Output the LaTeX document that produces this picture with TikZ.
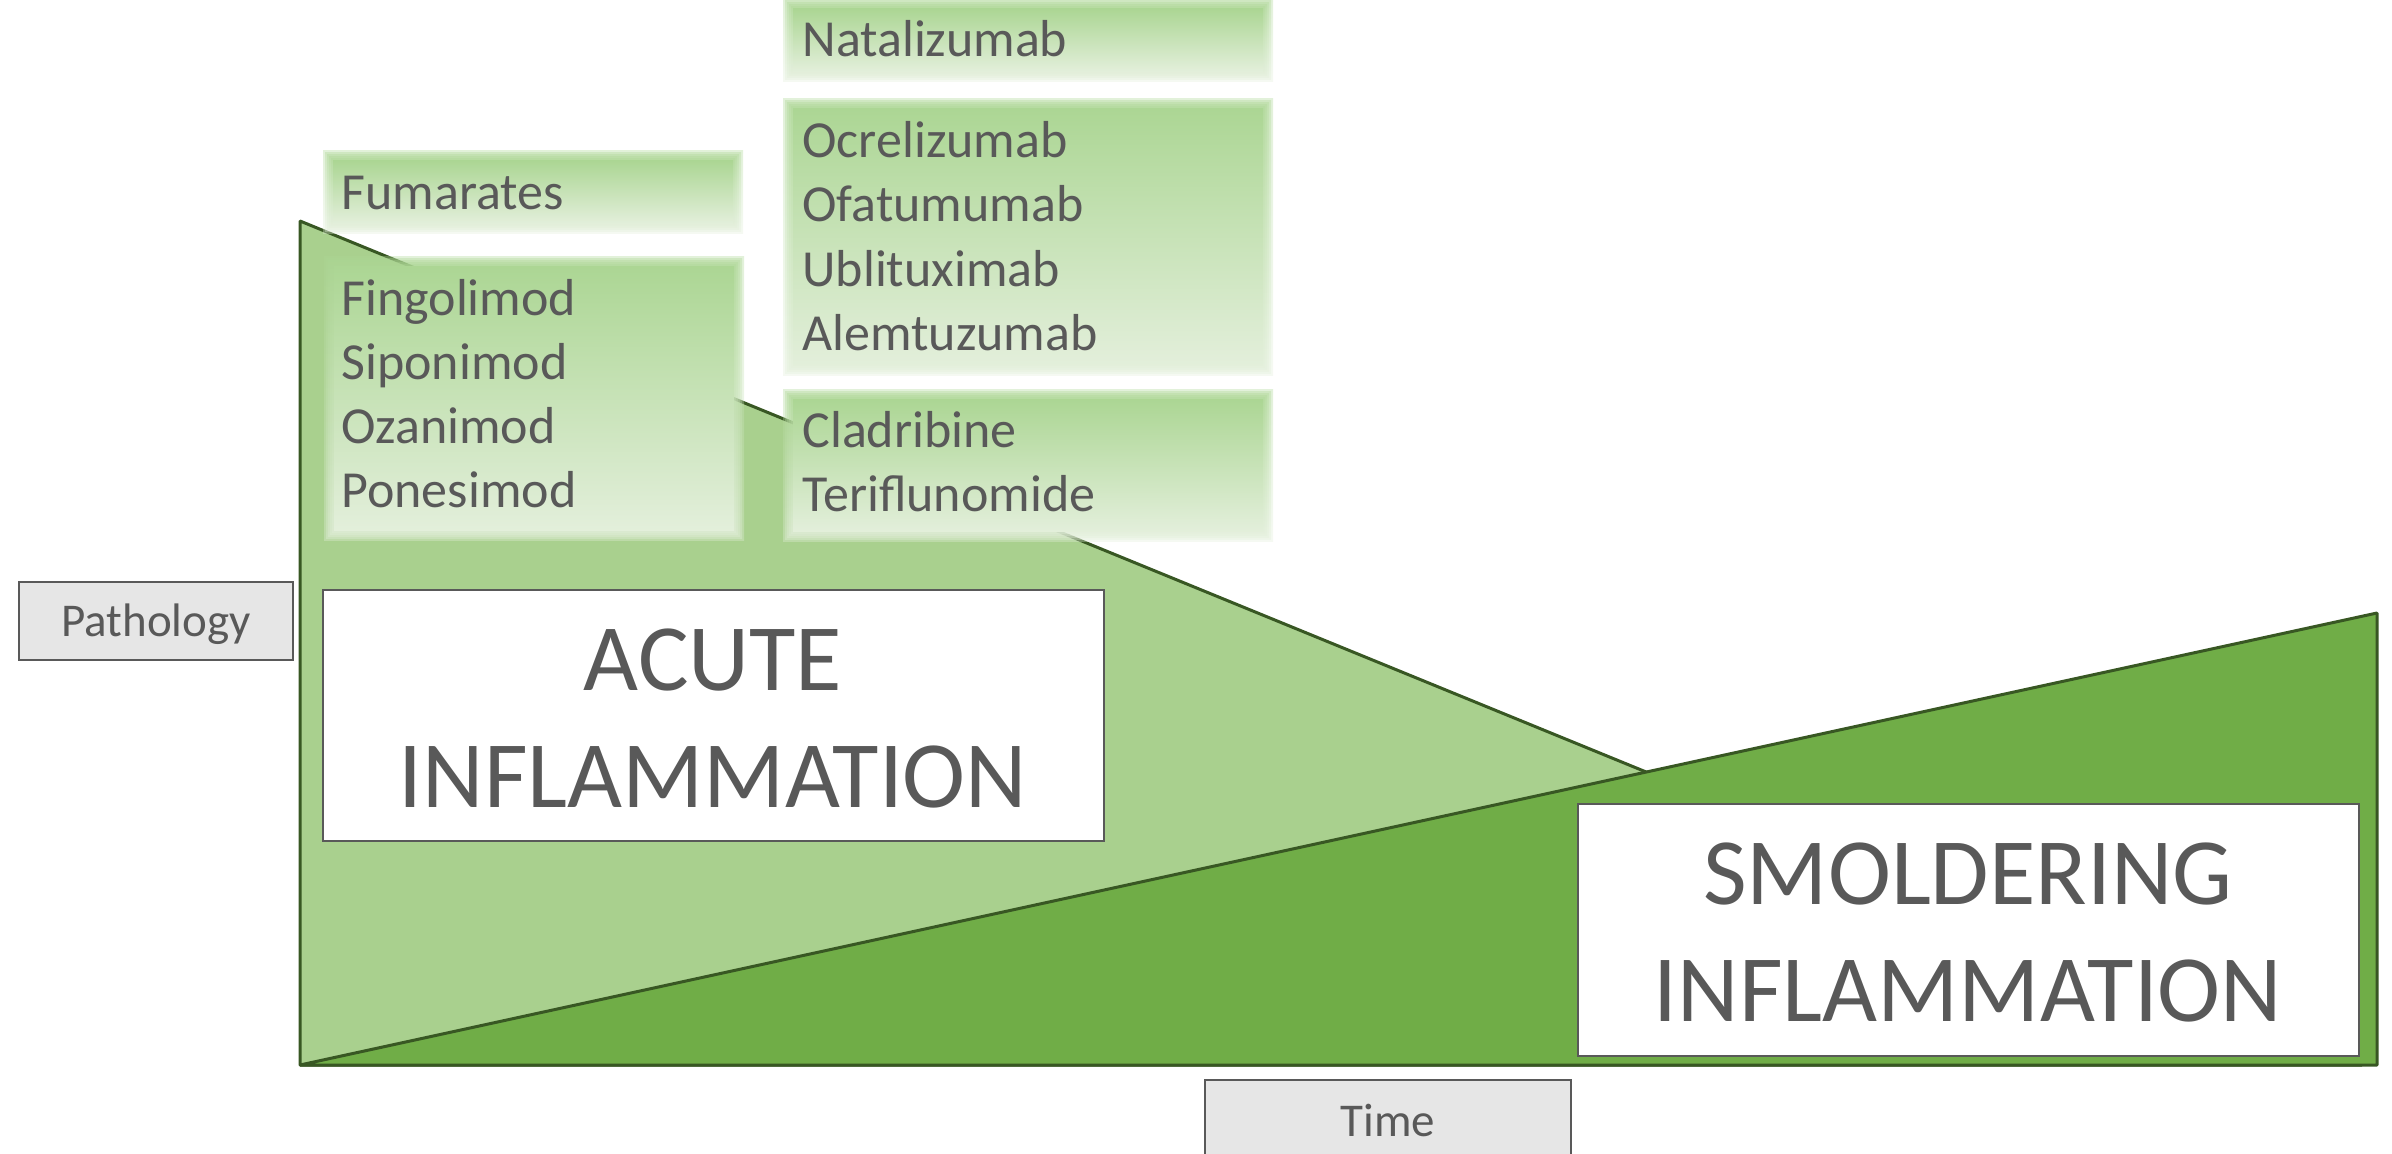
\documentclass[tikz,border=0pt]{standalone}
\usepackage{fontspec}
\setmainfont{Carlito}
\definecolor{lightg}{HTML}{A9D08E}
\definecolor{darkg}{HTML}{70AD47}
\definecolor{edgeg}{HTML}{385723}
\definecolor{txt}{HTML}{595959}
\definecolor{grayf}{HTML}{E6E6E6}
\definecolor{gtop}{HTML}{ACD694}
\definecolor{gbot}{HTML}{E3EFDB}
\newcommand\softbox[4]{%
  \foreach \d in {5,3,1,-1,-3}{%
    \shade[top color=gtop, bottom color=gbot, opacity=0.35] (#1-\d,#2-\d) rectangle (#3+\d,#4+\d);
  }
  \shade[top color=gtop, bottom color=gbot] (#1+5,#2+5) rectangle (#3-5,#4-5);
}
\begin{document}
\begin{tikzpicture}[x=0.5pt,y=-0.5pt,
  drug/.style={anchor=base west, inner sep=0pt, text=txt, font=\fontsize{26pt}{31pt}\selectfont},
  big/.style={anchor=base, inner sep=0pt, text=txt, font=\fontsize{47.5pt}{57pt}\selectfont},
  labelbox/.style={draw=txt, line width=1pt, fill=grayf, text=txt, inner sep=0pt,
    font=\fontsize{23.5pt}{28pt}\selectfont, text height=15pt, text depth=0pt},
  whitebox/.style={draw=txt, line width=1pt, fill=white, inner sep=0pt},
  tri/.style={draw=edgeg, line width=1.5pt, line join=bevel}]
\useasboundingbox (0,0) rectangle (2392,1154);
% triangles
\filldraw[tri, fill=lightg] (300,221) -- (300,1065) -- (2362,1065) -- cycle;
\filldraw[tri, fill=darkg] (300,1065) -- (2377,613) -- (2377,1065) -- cycle;
% drug boxes
\softbox{328}{156}{738}{229}
\softbox{329}{262}{739}{536}
\softbox{788}{4}{1268}{77}
\softbox{788}{104}{1268}{371}
\softbox{788}{395}{1268}{537}
% drug names
\node[drug] (fum) at (341,210) {Fumarates};
\node[drug] (fin) at (341,316) {Fingolimod};
\node[drug] (sip) at (341,380) {Siponimod};
\node[drug] (oza) at (341,444) {Ozanimod};
\node[drug] (pon) at (341,508) {Ponesimod};
\node[drug] (nat) at (802,57) {Natalizumab};
\node[drug] (ocr) at (802,158) {Ocrelizumab};
\node[drug] (ofa) at (802,222) {Ofatumumab};
\node[drug] (ubl) at (802,287) {Ublituximab};
\node[drug] (ale) at (802,351) {Alemtuzumab};
\node[drug] (cla) at (802,448) {Cladribine};
\node[drug] (ter) at (802,512) {Teriflunomide};
% big boxes
\node[whitebox, minimum width=390.5pt, minimum height=125.5pt] (acute) at (713.5,715.5) {};
\node[big] (acute1) at (713,690) {ACUTE};
\node[big] (acute2) at (713,807) {INFLAMMATION};
\node[whitebox, minimum width=390.5pt, minimum height=126pt] (smold) at (1968.5,930) {};
\node[big] (smold1) at (1968,904) {SMOLDERING};
\node[big] (smold2) at (1968,1021) {INFLAMMATION};
% axis labels
\node[labelbox, minimum width=137pt, minimum height=39pt] (path) at (156,621) {Pathology};
\node[labelbox, minimum width=183pt, minimum height=41pt] (time) at (1388,1121) {Time};
\end{tikzpicture}
\end{document}
